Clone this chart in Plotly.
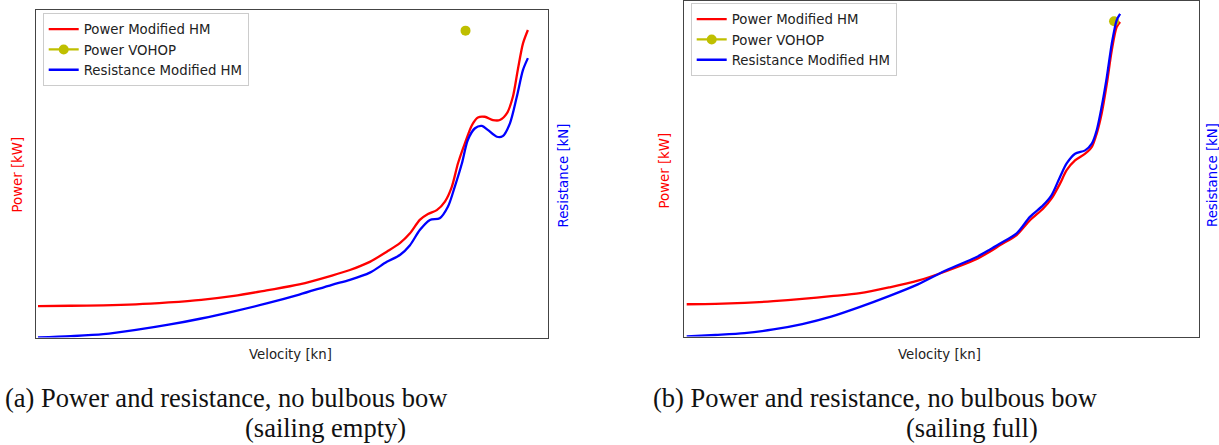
import plotly.graph_objects as go

# ---------------- data: (a) sailing empty ----------------
vel_a_power = [0, 1, 2, 3, 4, 5, 6, 7, 8, 9, 9.55, 10.16, 10.68, 11.08, 11.39, 11.69, 11.94, 12.21,
               12.46, 12.67, 12.86, 13.07, 13.29, 13.47, 13.68, 13.93, 14.14, 14.36, 14.54, 14.69,
               14.85, 15.0]
power_a = [96, 97, 98, 101, 107, 115, 127, 144, 162, 189, 206, 231, 262, 288, 318, 359, 377, 389,
           415, 460, 532, 593, 649, 672, 674, 664, 664, 685, 735, 817,
           898, 939]
vel_a_res = [0, 1, 2, 3, 4, 5, 6, 7, 8, 9, 9.55, 10.16, 10.68, 11.08, 11.39, 11.69, 12.0, 12.3,
             12.55, 12.76, 12.98, 13.16, 13.38, 13.59, 13.77, 14.05, 14.23, 14.45, 14.66, 14.85, 15.0]
res_a = [0.0, 0.4, 1.0, 2.3, 3.9, 5.8, 8.0, 10.4, 13.1, 16.1, 17.6, 19.8, 23.1, 25.2, 28.2, 32.8, 35.9, 36.4,
         39.9, 46.0, 53.2, 60.3, 63.9, 64.6, 63.4, 61.3, 61.5, 65.4, 73.5, 81.7, 85.3]
vohop_vel_a = [13.09]
vohop_power_a = [937]

# ---------------- data: (b) sailing full ----------------
vel_b_power = [0, 1, 2, 3, 4, 5, 6, 7, 8, 9, 10, 10.5, 10.85, 11.42, 11.88, 12.34, 12.63, 12.92, 13.15,
               13.44, 13.79, 14.02, 14.19, 14.36, 14.54, 14.71, 14.88, 15.0]
power_b = [96, 97, 100, 105, 112, 120, 129, 146, 166, 195, 229, 253, 272, 302, 346, 381, 411, 455, 495,
           524, 544, 564, 604, 663, 752, 851, 921, 936]
vel_b_res = [0, 1, 2, 3, 4, 5, 6, 7, 8, 9, 10, 10.5, 10.85, 11.42, 11.88, 12.34, 12.63, 12.92, 13.15,
             13.44, 13.79, 14.02, 14.19, 14.36, 14.54, 14.71, 14.88, 15.0]
res_b = [0.0, 0.45, 1.0, 2.1, 3.7, 5.9, 8.8, 12.0, 15.5, 19.8, 23.5, 25.9, 27.7, 30.7, 35.6, 39.1, 42.1, 47.5, 51.5,
         54.4, 55.4, 57.4, 61.4, 68.3, 77.2, 87.1, 94.1, 96.0]
vohop_vel_b = [14.79]
vohop_power_b = [938]

W, H = 1219, 445
RED, BLUE, OLIVE = "#ff0000", "#0000ff", "#bfbf00"
SANS = "DejaVu Sans"
FS = 13.3

def px(x):
    return x / W

def py(y):
    return 1 - y / H

fig = go.Figure()
line_kw = dict(shape="spline", smoothing=0.8, width=2.3)

# panel a
fig.add_trace(go.Scatter(x=vel_a_power, y=power_a, mode="lines", name="Power Modified HM",
                         line=dict(color=RED, **line_kw), xaxis="x", yaxis="y", legend="legend"))
fig.add_trace(go.Scatter(x=vohop_vel_a, y=vohop_power_a, mode="lines+markers", name="Power VOHOP",
                         line=dict(color=OLIVE, width=2.2), marker=dict(color=OLIVE, size=10),
                         xaxis="x", yaxis="y", legend="legend"))
fig.add_trace(go.Scatter(x=vel_a_res, y=res_a, mode="lines", name="Resistance Modified HM",
                         line=dict(color=BLUE, **line_kw), xaxis="x", yaxis="y2", legend="legend"))
# panel b
fig.add_trace(go.Scatter(x=vel_b_power, y=power_b, mode="lines", name="Power Modified HM",
                         line=dict(color=RED, **line_kw), xaxis="x2", yaxis="y3", legend="legend2"))
fig.add_trace(go.Scatter(x=vohop_vel_b, y=vohop_power_b, mode="lines+markers", name="Power VOHOP",
                         line=dict(color=OLIVE, width=2.2), marker=dict(color=OLIVE, size=10),
                         xaxis="x2", yaxis="y3", legend="legend2"))
fig.add_trace(go.Scatter(x=vel_b_res, y=res_b, mode="lines", name="Resistance Modified HM",
                         line=dict(color=BLUE, **line_kw), xaxis="x2", yaxis="y4", legend="legend2"))

frame = dict(showline=True, mirror=True, linecolor="#444", linewidth=1, ticks="",
             showticklabels=False, showgrid=False, zeroline=False)
hidden = dict(showline=False, ticks="", showticklabels=False, showgrid=False, zeroline=False)

legend_style = dict(bgcolor="white", bordercolor="#cccccc", borderwidth=1,
                    font=dict(family=SANS, size=FS, color="#222"),
                    xanchor="left", yanchor="top", traceorder="normal", tracegroupgap=0)

fig.update_layout(
    width=W, height=H, margin=dict(l=0, r=0, t=0, b=0),
    paper_bgcolor="white", plot_bgcolor="white",
    showlegend=True,
    xaxis=dict(domain=[px(35.6), px(547.5)], range=[-0.073, 15.6], anchor="y", **frame),
    yaxis=dict(domain=[py(337.5), py(10)], range=[0, 1000], anchor="x", **frame),
    yaxis2=dict(overlaying="y", side="right", range=[0, 100], anchor="x", **hidden),
    xaxis2=dict(domain=[px(684), px(1199)], range=[-0.093, 17.73], anchor="y3", **frame),
    yaxis3=dict(domain=[py(336.5), py(0.5)], range=[0, 1000], anchor="x2", **frame),
    yaxis4=dict(overlaying="y3", side="right", range=[0, 100], anchor="x2", **hidden),
    legend=dict(x=px(42.7), y=py(13), **legend_style),
    legend2=dict(x=px(690.7), y=py(3), **legend_style),
)

def label(text, x, y, color, angle=0, size=FS, family=SANS, xanchor="center"):
    fig.add_annotation(text=text, x=px(x), y=py(y), xref="paper", yref="paper",
                       showarrow=False, textangle=angle, xanchor=xanchor, yanchor="middle",
                       font=dict(family=family, size=size, color=color))

# axis titles
label("Power [kW]", 16.5, 175, RED, -90)
label("Resistance [kN]", 563.5, 176, BLUE, -90)
label("Velocity [kn]", 290, 354, "#222")
label("Power [kW]", 664.5, 171, RED, -90)
label("Resistance [kN]", 1212, 175, BLUE, -90)
label("Velocity [kn]", 939, 354, "#222")

# captions
SERIF = "Liberation Serif"
CS = 26.5
label("(a) Power and resistance, no bulbous bow", 3, 398, "#111", size=CS, family=SERIF, xanchor="left")
label("(sailing empty)", 325, 428, "#111", size=CS, family=SERIF)
label("(b) Power and resistance, no bulbous bow", 651, 398, "#111", size=CS, family=SERIF, xanchor="left")
label("(sailing full)", 972, 428, "#111", size=CS, family=SERIF)

fig.write_html("out.html")
